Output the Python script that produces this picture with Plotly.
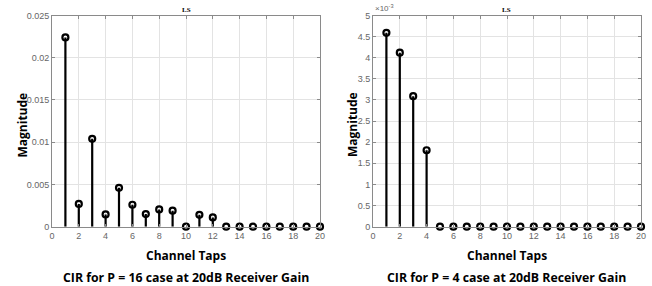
import plotly.graph_objects as go

taps = list(range(1, 21))
mag_p16 = [0.0224, 0.0027, 0.0104, 0.00145, 0.0046, 0.0026, 0.0015, 0.00205, 0.0019, 0.0,
           0.0014, 0.0011, 0, 0, 0, 0, 0, 0, 0, 0]
mag_p4 = [0.00459, 0.00412, 0.00309, 0.00181, 0, 0, 0, 0, 0, 0,
          0, 0, 0, 0, 0, 0, 0, 0, 0, 0]
x_ticks = list(range(0, 21, 2))
y_ticks_p16 = [0, 0.005, 0.01, 0.015, 0.02, 0.025]
y_ticklabels_p16 = ["0", "0.005", "0.01", "0.015", "0.02", "0.025"]
y_ticks_p4 = [0, 0.0005, 0.001, 0.0015, 0.002, 0.0025, 0.003, 0.0035, 0.004, 0.0045, 0.005]
y_ticklabels_p4 = ["0", "0.5", "1", "1.5", "2", "2.5", "3", "3.5", "4", "4.5", "5"]
panel_titles = ["LS", "LS"]
captions = ["CIR for P = 16 case at 20dB Receiver Gain", "CIR for P = 4 case at 20dB Receiver Gain"]
x_title = "Channel Taps"
y_title = "Magnitude"

W, H = 652, 286


def px(x):
    return x / W


def py(y):
    return 1 - y / H


fig = go.Figure()


def add_stem(xs, ys, xa, ya):
    sx, sy = [], []
    for xv, yv in zip(xs, ys):
        sx += [xv, xv, None]
        sy += [0, yv, None]
    fig.add_trace(go.Scatter(x=sx, y=sy, mode="lines", line=dict(color="black", width=2.2),
                             xaxis=xa, yaxis=ya, showlegend=False, hoverinfo="skip"))
    fig.add_trace(go.Scatter(x=xs, y=ys, mode="markers",
                             marker=dict(symbol="circle-open", size=6, color="black",
                                         line=dict(width=2.2, color="black")),
                             xaxis=xa, yaxis=ya, showlegend=False, cliponaxis=False))


add_stem(taps, mag_p16, "x", "y")
add_stem(taps, mag_p4, "x2", "y2")

ydom = [py(226.7), py(15.5)]
axis_common = dict(showgrid=True, gridcolor="#e3e3e3", gridwidth=1, showline=True,
                   linecolor="#8a8a8a", linewidth=1, mirror="ticks", ticks="inside",
                   ticklen=3, tickcolor="#8a8a8a", zeroline=False, automargin=False,
                   tickfont=dict(family="Liberation Sans, Arial", size=9, color="#666666"))

fig.update_layout(
    width=W, height=H, margin=dict(l=0, r=0, t=0, b=0),
    paper_bgcolor="white", plot_bgcolor="white",
    xaxis=dict(domain=[px(52), px(320)], range=[0, 20], tickvals=x_ticks, anchor="y", **axis_common),
    yaxis=dict(domain=ydom, range=[0, 0.025], tickvals=y_ticks_p16, ticktext=y_ticklabels_p16,
               anchor="x", **axis_common),
    xaxis2=dict(domain=[px(373), px(641)], range=[0, 20], tickvals=x_ticks, anchor="y2", **axis_common),
    yaxis2=dict(domain=ydom, range=[0, 0.005], tickvals=y_ticks_p4, ticktext=y_ticklabels_p4,
                anchor="x2", **axis_common),
)

bold = dict(family="Open Sans, Lato, sans-serif", size=12, color="black")
ann = []
for i, (xc, yl) in enumerate([((52 + 320) / 2, 21.5), ((373 + 641) / 2, 352)]):
    base = dict(xref="paper", yref="paper", showarrow=False, xanchor="center", yanchor="middle")
    ann.append(dict(base, x=px(xc), y=py(9.5), text="<b>%s</b>" % panel_titles[i],
                    font=dict(family="Liberation Serif, Times New Roman", size=7, color="black")))
    ann.append(dict(base, x=px(xc), y=py(255), text="<b>%s</b>" % x_title, font=bold))
    ann.append(dict(base, x=px(yl), y=py(125), text="<b>%s</b>" % y_title, textangle=-90, font=bold))
    ann.append(dict(base, x=px(xc), y=py(277), text="<b>%s</b>" % captions[i],
                    font=dict(family="Open Sans, Lato, sans-serif", size=12.3, color="black")))
ann.append(dict(x=px(373), y=py(8), xref="paper", yref="paper", xanchor="left", yanchor="middle",
                text="\u00d710<sup>-3</sup>", showarrow=False,
                font=dict(family="Liberation Sans, Arial", size=8, color="#666666")))
fig.update_layout(annotations=ann)

fig.write_html("out.html", config={"displayModeBar": False},
               post_script="document.body.style.margin='0';")
